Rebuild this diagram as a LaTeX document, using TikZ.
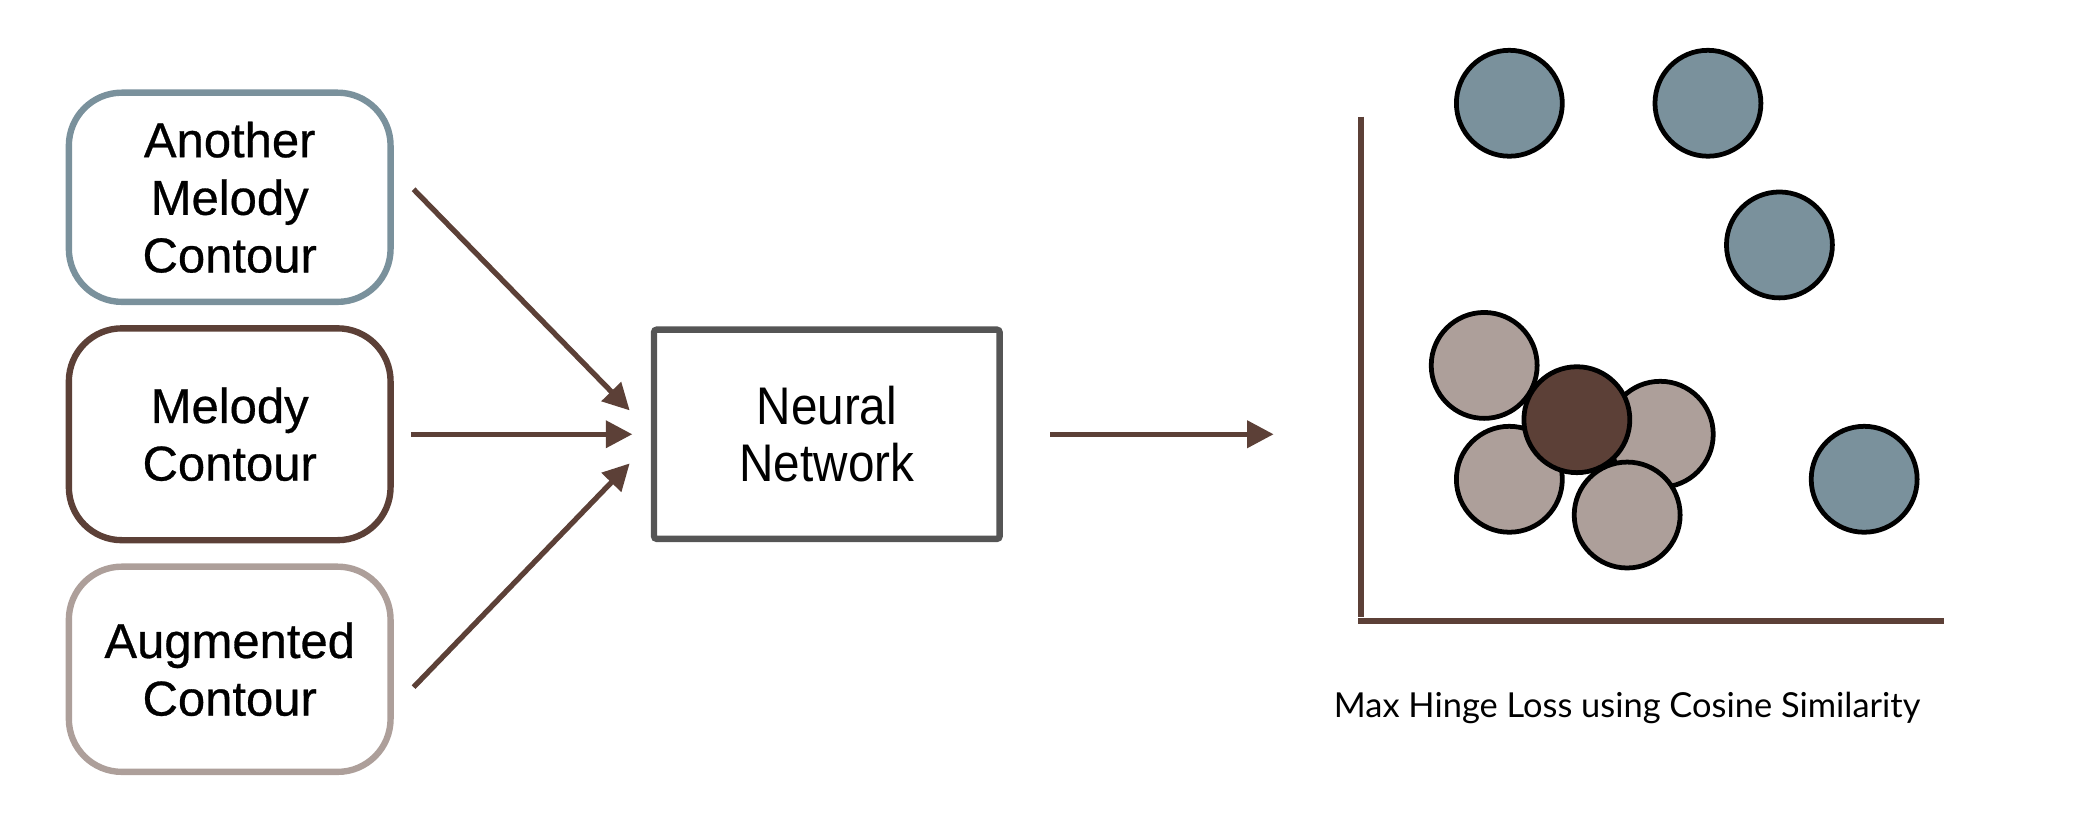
\documentclass[tikz,border=0pt]{standalone}
\usepackage{fontspec}
\setmainfont{Liberation Sans}
\newfontfamily\boxfont[FakeBold=0.6]{Liberation Sans}
\newfontfamily\nnfont[FakeStretch=0.9]{Liberation Sans}
\newfontfamily\capfont{Lato}
\usetikzlibrary{arrows.meta,calc}

\definecolor{slate}{HTML}{7A919C}
\definecolor{taupe}{HTML}{AD9F9A}
\definecolor{cocoa}{HTML}{5C4037}
\definecolor{boxgray}{HTML}{555555}

\tikzset{
  inbox/.style={draw, line width=2.4pt, rounded corners=20pt, fill=white,
    minimum width=121.5pt, align=center, inner sep=0pt,
    font=\boxfont\fontsize{18.5}{21.75}\selectfont},
  nnbox/.style={draw=boxgray, line width=2.4pt, rounded corners=1pt,
    minimum width=130.5pt, minimum height=79pt, align=center,
    font=\nnfont\fontsize{20}{21.75}\selectfont},
  arr/.style={draw=cocoa, line width=2pt,
    -{Triangle[length=10pt,width=10pt]}},
  axis/.style={draw=cocoa, line width=2.2pt},
  dot/.style={circle, draw=black, line width=1.8pt, minimum size=40pt,
    inner sep=0pt},
  far/.style={dot, fill=slate},
  near/.style={dot, fill=taupe},
  anchorpt/.style={dot, fill=cocoa},
}

\begin{document}
\begin{tikzpicture}[x=0.5pt, y=-0.5pt]
  \useasboundingbox (0,0) rectangle (1568,625);

  % input contours
  \node[inbox, draw=slate, minimum height=79pt] (b1) at (173.5,149)
    {Another\\Melody\\Contour};
  \node[inbox, draw=cocoa, minimum height=80pt] (b2) at (173.5,328)
    {Melody\\Contour};
  \node[inbox, draw=taupe, minimum height=77.5pt] (b3) at (173.5,505.5)
    {Augmented\\Contour};

  % encoder
  \node[nnbox] (nn) at (624.5,328) {Neural\\Network};

  % inputs into the network
  \draw[arr] ([shift={(15,-6)}]b1.east) -- ([shift={(-16,-18)}]nn.west);
  \draw[arr] ([shift={(13,0)}]b2.east) -- ([shift={(-14,0)}]nn.west);
  \draw[arr] ([shift={(15,13.5)}]b3.east) -- ([shift={(-16,22)}]nn.west);

  % output into the embedding space
  \coordinate (emb) at (962,328);
  \draw[arr] ([shift={(36,0)}]nn.east) -- (emb);

  % axes
  \coordinate (ytop) at (1028,88);
  \coordinate (ybot) at (1028,466);
  \coordinate (xl) at (1026,469);
  \coordinate (xr) at (1468,469);
  \draw[axis] (ytop) -- (ybot);
  \draw[axis] (xl) -- (xr);

  % embeddings
  \node[far] (n1) at (1140,78) {};
  \node[far] (n2) at (1290,78) {};
  \node[far] (n3) at (1344,185) {};
  \node[far] (n4) at (1408,362) {};
  \node[near] (p1) at (1121,276) {};
  \node[near] (p2) at (1140,362) {};
  \node[near] (p3) at (1254,328) {};
  \node[anchorpt] (a) at (1191,317) {};
  \node[near] (p4) at (1229,389) {};

  \node[font=\capfont\fontsize{13}{15}\selectfont] (cap) at (1229,535)
    {Max Hinge Loss using Cosine Similarity};
\end{tikzpicture}
\end{document}
